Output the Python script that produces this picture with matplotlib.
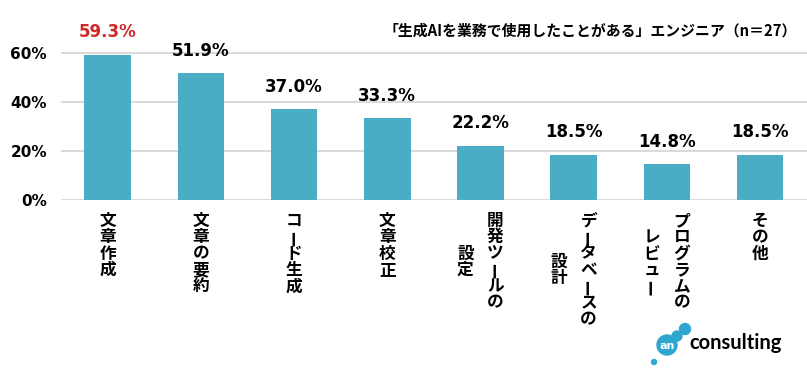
import matplotlib.pyplot as plt
from matplotlib.patches import Circle

categories = ["文章作成", "文章の要約", "コード生成", "文章校正",
              "開発ツールの\n設定", "データベースの\n設計", "プログラムの\nレビュー", "その他"]
values = [59.3, 51.9, 37.0, 33.3, 22.2, 18.5, 14.8, 18.5]
yticks = [0, 20, 40, 60]
title = "「生成AIを業務で使用したことがある」エンジニア（n＝27）"

plt.rcParams["font.family"] = ["DejaVu Sans"]
bar_color = "#4BACC6"
jp = ["Noto Sans CJK JP", "DejaVu Sans"]

fig = plt.figure(figsize=(8.07, 3.72), dpi=100)
ax = fig.add_axes([0.0756, 0.4624, 0.924, 0.461])

x = list(range(len(values)))
ax.bar(x, values, width=0.5, color=bar_color, zorder=3)
ax.set_xlim(-0.5, len(values) - 0.5)
ax.set_ylim(0, 70)

ax.set_yticks(yticks)
ax.set_yticklabels([f"{t}%" for t in yticks], fontsize=11, fontweight="bold",
                   family="DejaVu Sans")
ax.tick_params(axis="y", length=0, pad=10)
ax.set_xticks([])
ax.yaxis.grid(True, color="#D9D9D9", lw=1.4)
ax.set_axisbelow(True)
for s in ax.spines.values():
    s.set_visible(False)

# value labels, first one in red
for i, v in enumerate(values):
    ax.annotate(f"{v:.1f}%", xy=(i, v), xytext=(0, 16), textcoords="offset points",
                ha="center", va="center", fontsize=12, fontweight="bold",
                family="DejaVu Sans", color="#D02828" if i == 0 else "black")

# vertical (tategaki) category labels, columns run right to left
step = 11.8
top_pad = 15
col_gap = 21.6
for xi, label in zip(x, categories):
    cols = label.split("\n")
    n = max(len(c) for c in cols)
    k = len(cols)
    for j, col in enumerate(cols):
        dx = ((k - 1) / 2 - j) * col_gap
        start = (n - len(col)) / 2 * step
        for i, ch in enumerate(col):
            dy = -(top_pad + start + i * step)
            ax.annotate(ch, xy=(xi, 0), xycoords=ax.get_xaxis_transform(),
                        xytext=(dx, dy), textcoords="offset points",
                        ha="center", va="center", rotation=90 if ch == "ー" else 0,
                        fontsize=12, fontweight="bold", family=jp,
                        annotation_clip=False)

fig.text(0.988, 0.919, title, ha="right", va="center", fontsize=10.7,
         fontweight="bold", family=jp)

# logo
lg = fig.add_axes([0, 0, 1, 1], zorder=5)
lg.set_xlim(0, 807)
lg.set_ylim(372, 0)
lg.axis("off")
logo_blue = "#2EA7D0"
lg.add_patch(Circle((667, 345), 10, color=logo_blue))
lg.add_patch(Circle((677, 336), 5, color=logo_blue))
lg.add_patch(Circle((685, 329), 5.5, color=logo_blue))
lg.add_patch(Circle((654, 362), 2.5, color=logo_blue))
lg.text(667, 346, "an", ha="center", va="center", color="white", fontsize=8,
        fontweight="bold")
lg.text(689, 343, "consulting", ha="left", va="center", fontsize=14.5,
        fontweight="bold", family="Lato")

fig.savefig("out.png", dpi=100)
